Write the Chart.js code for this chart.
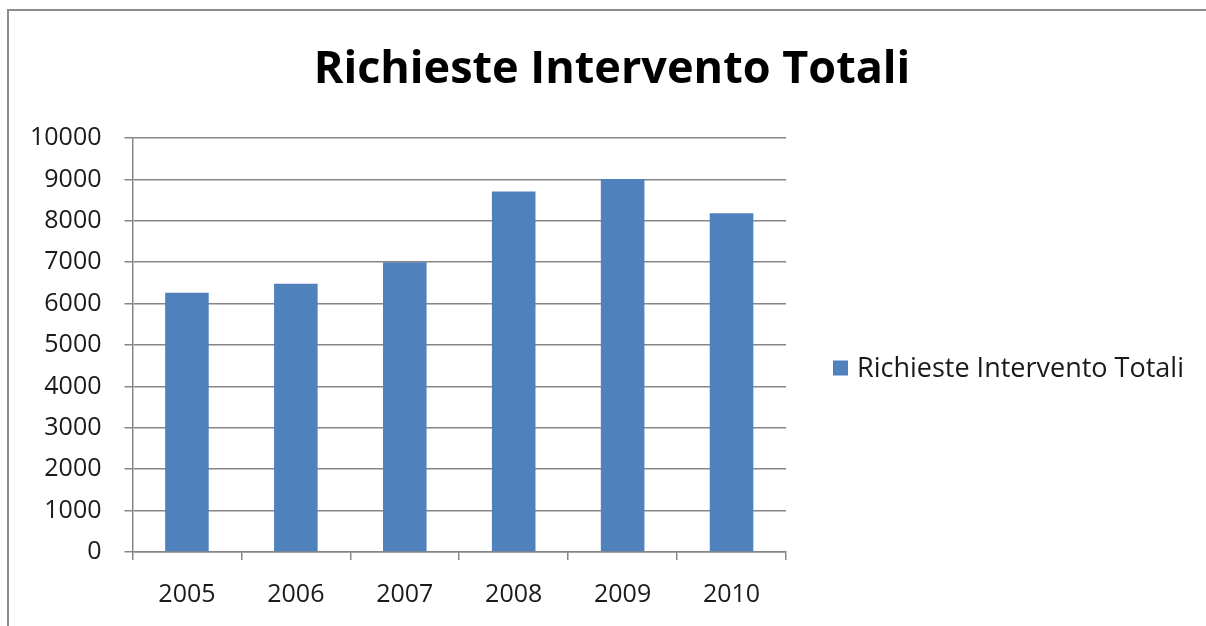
<!DOCTYPE html>
<html>
<head>
<meta charset="utf-8">
<script src="https://cdn.jsdelivr.net/npm/chart.js@4.4.1/dist/chart.umd.min.js"></script>
<style>
  html, body { margin: 0; padding: 0; background: #ffffff; }
  #wrap { position: relative; width: 1206px; height: 626px; overflow: hidden; }
  #frame {
    position: absolute; left: 7px; top: 9px; right: -4px; bottom: -4px;
    border-left: 2px solid #8c8c8c; border-top: 2px solid #8c8c8c;
    pointer-events: none;
  }
  canvas { position: absolute; left: 0; top: 0; }
</style>
</head>
<body>
<div id="wrap">
  <canvas id="chart" width="1206" height="626"></canvas>
  <div id="frame"></div>
</div>
<script>
// Yearly totals of service requests
const years = ['2005', '2006', '2007', '2008', '2009', '2010'];
const requests = [6260, 6480, 7000, 8710, 9010, 8180];
const seriesName = 'Richieste Intervento Totali';
const chartTitle = 'Richieste Intervento Totali';
const yTicks = [0, 1000, 2000, 3000, 4000, 5000, 6000, 7000, 8000, 9000, 10000];

const axisGray = '#868686';
const barBlue = '#4f81bd';
const textColor = '#1a1a1a';
const bodyFont = '"Open Sans", "Liberation Sans", sans-serif';

// Legend drawn to the right of the plot area, one entry per dataset
const sideLegend = {
  id: 'sideLegend',
  afterDraw(chart) {
    const { ctx, chartArea } = chart;
    const box = 15;
    const x0 = chartArea.right + 47;
    let y = (chartArea.top + chartArea.bottom) / 2 + 23;
    ctx.save();
    ctx.font = '27px ' + bodyFont;
    ctx.textBaseline = 'middle';
    ctx.textAlign = 'left';
    chart.data.datasets.forEach((ds) => {
      ctx.fillStyle = ds.backgroundColor;
      ctx.fillRect(x0, y - box / 2, box, box);
      ctx.fillStyle = textColor;
      ctx.fillText(ds.label, x0 + box + 9, y + 1);
      y += 36;
    });
    ctx.restore();
  }
};

new Chart(document.getElementById('chart'), {
  type: 'bar',
  data: {
    labels: years,
    datasets: [{
      label: seriesName,
      data: requests,
      backgroundColor: barBlue,
      borderWidth: 0,
      categoryPercentage: 1.0,
      barPercentage: 0.4
    }]
  },
  plugins: [sideLegend],
  options: {
    responsive: false,
    animation: false,
    devicePixelRatio: 1,
    layout: { padding: { left: 7, right: -11, top: 0, bottom: -4 } },
    plugins: {
      title: {
        display: true,
        text: chartTitle,
        color: '#000000',
        font: { family: bodyFont, size: 45, weight: 'bold' },
        padding: { top: 43, bottom: 41 }
      },
      legend: { display: false },
      tooltip: { enabled: false }
    },
    scales: {
      x: {
        grid: {
          display: true,
          drawOnChartArea: false,
          drawTicks: true,
          tickLength: 8,
          color: axisGray,
          lineWidth: 1.5
        },
        border: { display: true, color: axisGray, width: 1.5 },
        ticks: { color: textColor, font: { family: bodyFont, size: 25 }, padding: 20 }
      },
      y: {
        min: 0,
        max: 10000,
        afterBuildTicks: (scale) => { scale.ticks = yTicks.map(v => ({ value: v })); },
        grid: {
          color: axisGray,
          lineWidth: 1.5,
          tickLength: 8
        },
        border: { display: true, color: axisGray, width: 1.5 },
        ticks: {
          color: textColor,
          font: { family: bodyFont, size: 25 },
          padding: 23,
          callback: (v) => String(v)
        }
      },
      // empty right-hand column that keeps room for the legend
      legendSpace: {
        position: 'right',
        display: true,
        grid: { display: false },
        border: { display: false },
        ticks: { display: false },
        afterFit: (scale) => { scale.width = 431; }
      }
    }
  }
});
</script>
</body>
</html>
